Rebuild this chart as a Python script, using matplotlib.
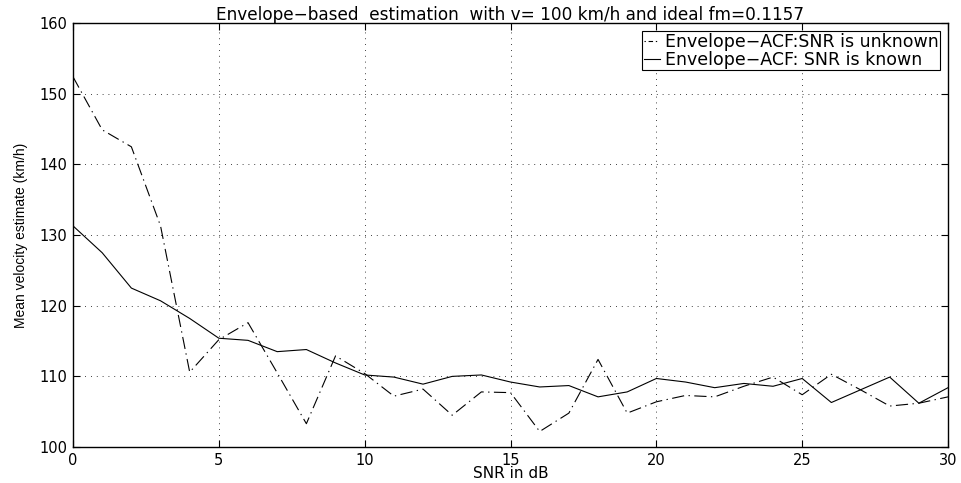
import matplotlib
matplotlib.use("Agg")
import matplotlib.pyplot as plt

snr_db = list(range(0, 31))

vel_snr_unknown = [152.4, 144.9, 142.5, 131.3, 110.6, 115.2, 117.6, 110.5, 103.3, 112.9,
                   110.4, 107.2, 108.2, 104.5, 107.8, 107.7, 102.2, 104.8, 112.4, 104.8,
                   106.4, 107.3, 107.1, 108.6, 109.9, 107.4, 110.3, 108.1, 105.8, 106.2,
                   107.1]

vel_snr_known = [131.3, 127.5, 122.5, 120.7, 118.2, 115.4, 115.1, 113.5, 113.8, 111.9,
                 110.2, 109.9, 108.9, 110.0, 110.2, 109.2, 108.5, 108.7, 107.1, 107.8,
                 109.7, 109.2, 108.4, 109.0, 108.6, 109.7, 106.3, 108.1, 109.9, 106.2,
                 108.4]

x_ticks = [0, 5, 10, 15, 20, 25, 30]
y_ticks = [100, 110, 120, 130, 140, 150, 160]

title_text = "Envelope\u2212based  estimation  with v= 100 km/h and ideal fm=0.1157"
xlabel_text = "SNR in dB"
ylabel_text = "Mean velocity estimate (km/h)"
legend_labels = ["Envelope\u2212ACF:SNR is unknown", "Envelope\u2212ACF: SNR is known"]

plt.rcParams["font.family"] = ["DejaVu Sans"]

fig = plt.figure(figsize=(9.61, 4.83), dpi=100)
ax = fig.add_axes([0.076, 0.0745, 0.9105, 0.8775])

ax.plot(snr_db, vel_snr_unknown, color="black", linewidth=0.8,
        linestyle=(0, (11, 4, 1.2, 4)), label=legend_labels[0])
ax.plot(snr_db, vel_snr_known, color="black", linewidth=0.8,
        linestyle="-", label=legend_labels[1])

ax.set_xlim(0, 30)
ax.set_ylim(100, 160)
ax.set_xticks(x_ticks)
ax.set_yticks(y_ticks)
ax.tick_params(direction="in", length=5, width=0.8, top=True, right=True,
               labelsize=10.5, pad=4)
for s in ax.spines.values():
    s.set_linewidth(1.0)

ax.grid(True, color="black", linestyle=(0, (1, 6)), linewidth=0.6)

ax.set_title(title_text, fontsize=12.2, pad=2)
ax.set_xlabel(xlabel_text, fontsize=11, labelpad=-1)
ax.set_ylabel(ylabel_text, fontsize=10, family=["Liberation Sans", "DejaVu Sans"],
              labelpad=8)

leg = ax.legend(loc="upper right", fontsize=12.5, frameon=True, fancybox=False,
                edgecolor="black", framealpha=1, borderpad=0.1, labelspacing=0.0,
                handlelength=0.9, handletextpad=0.3, borderaxespad=0.45)
leg.get_frame().set_linewidth(0.8)
# short legend sample: dot, dash, dot
leg.get_lines()[0].set_linestyle((0, (1.2, 2.5, 4, 2.5, 1.2, 10)))

fig.savefig("out.png", dpi=100)
